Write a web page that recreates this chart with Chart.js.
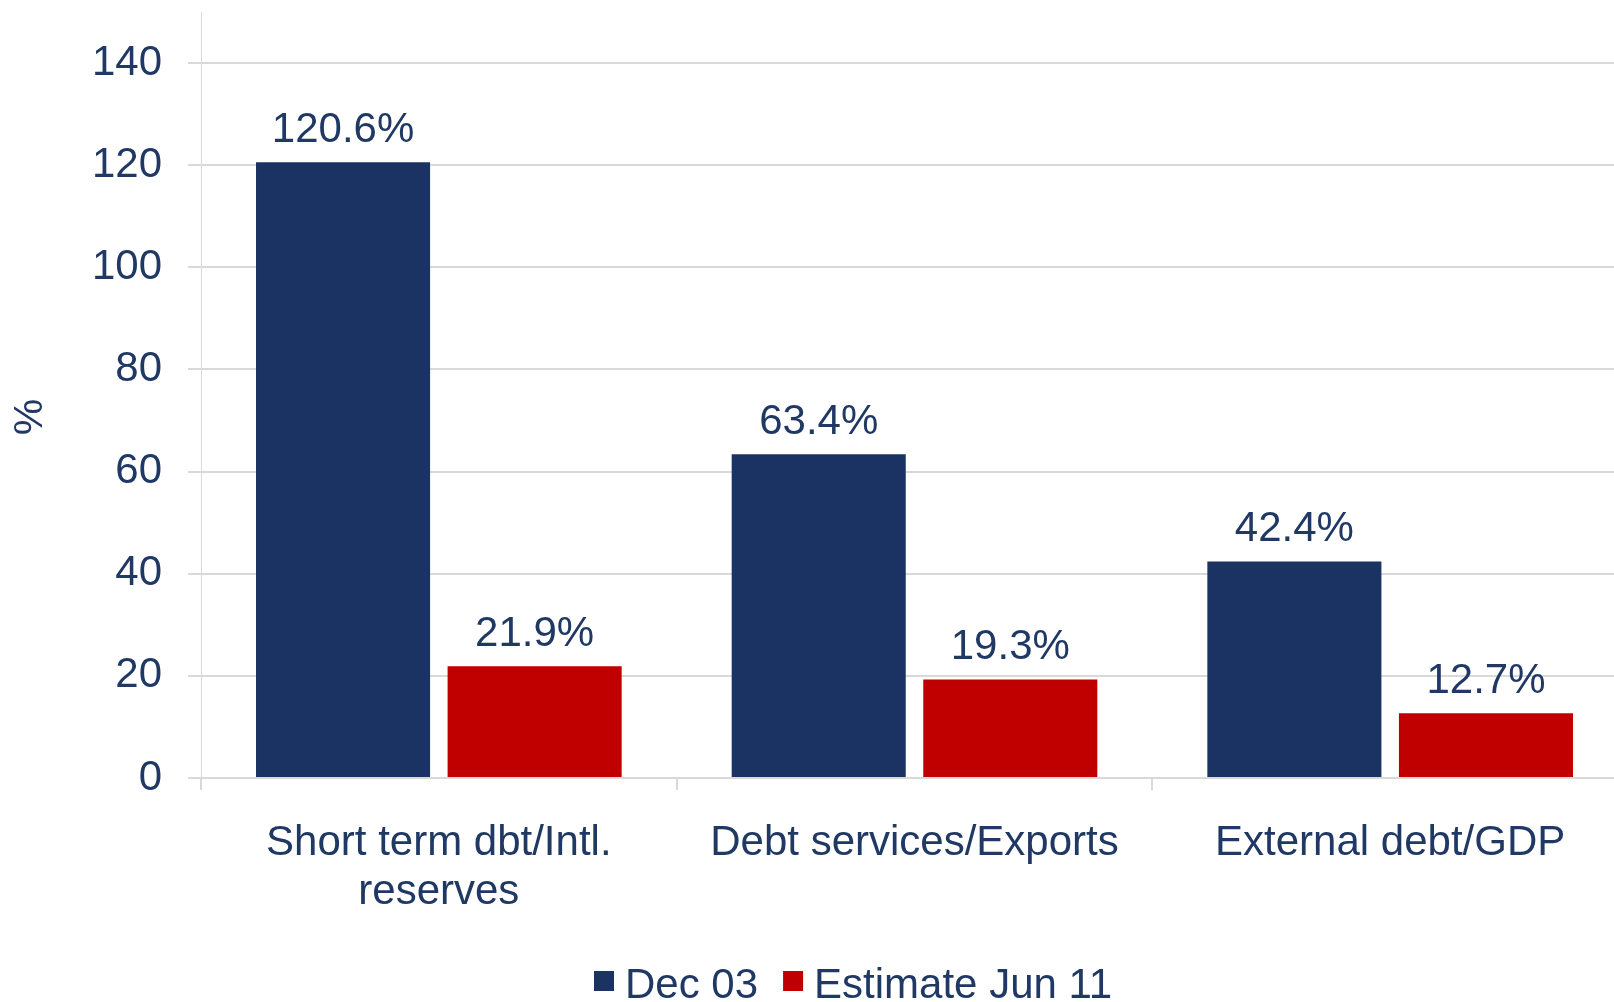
<!DOCTYPE html>
<html>
<head>
<meta charset="utf-8">
<script src="https://cdn.jsdelivr.net/npm/chart.js@4"></script>
<style>
  body { margin: 0; background: #fff; overflow: hidden; }
  #wrap { position: relative; width: 1630px; height: 1002px; }
</style>
</head>
<body>
<div id="wrap"><canvas id="Chart1"></canvas></div>
<script>
// data
const categories = [['Short term dbt/Intl.', 'reserves'], 'Debt services/Exports', 'External debt/GDP'];
const seriesNames = ['Dec 03', 'Estimate Jun 11'];
const dec03 = [120.6, 63.4, 42.4];
const jun11 = [21.9, 19.3, 12.7];
const yTicks = [0, 20, 40, 60, 80, 100, 120, 140];
const yTitle = '%';

const navy = '#1B3362';
const red = '#C00000';
const textColor = '#1F3864';
const gridColor = '#D9D9D9';
const fontFamily = '"Liberation Sans", Arial, sans-serif';

// value labels above the bars
const valueLabels = {
  id: 'valueLabels',
  afterDatasetsDraw(chart) {
    const ctx = chart.ctx;
    ctx.save();
    ctx.font = '42px ' + fontFamily;
    ctx.fillStyle = textColor;
    ctx.textAlign = 'center';
    ctx.textBaseline = 'alphabetic';
    chart.data.datasets.forEach((ds, i) => {
      chart.getDatasetMeta(i).data.forEach((bar, j) => {
        ctx.fillText(ds.data[j].toFixed(1) + '%', bar.x, bar.y - 20);
      });
    });
    ctx.restore();
  }
};

// y title and legend, drawn by hand so they sit where the original has them
const extras = {
  id: 'extras',
  afterDraw(chart) {
    const ctx = chart.ctx;
    ctx.save();
    ctx.font = '41px ' + fontFamily;
    ctx.fillStyle = textColor;
    ctx.translate(31, 417);
    ctx.rotate(-Math.PI / 2);
    ctx.textAlign = 'center';
    ctx.textBaseline = 'middle';
    ctx.fillText(yTitle, 0, 0);
    ctx.restore();

    ctx.save();
    ctx.font = '42px ' + fontFamily;
    ctx.textBaseline = 'alphabetic';
    ctx.textAlign = 'left';
    let x = 594;
    chart.data.datasets.forEach(ds => {
      ctx.fillStyle = ds.backgroundColor;
      ctx.fillRect(x, 971, 20, 20);
      ctx.fillStyle = textColor;
      ctx.fillText(ds.label, x + 31, 998);
      x += 31 + ctx.measureText(ds.label).width + 25;
    });
    ctx.restore();
  }
};

const ctx = document.getElementById('Chart1').getContext('2d');
new Chart(ctx, {
  type: 'bar',
  data: {
    labels: categories,
    datasets: [
      { label: seriesNames[0], data: dec03, backgroundColor: navy },
      { label: seriesNames[1], data: jun11, backgroundColor: red }
    ]
  },
  options: {
    responsive: true,
    maintainAspectRatio: false,
    animation: false,
    categoryPercentage: 0.8055,
    barPercentage: 0.9086,
    layout: { padding: { top: 12, right: 2, left: 0, bottom: 0 } },
    plugins: {
      legend: { display: false },
      tooltip: { enabled: false }
    },
    scales: {
      x: {
        grid: { offset: true, drawOnChartArea: false, tickLength: 12, color: gridColor, lineWidth: 2 },
        border: { color: gridColor, width: 2 },
        ticks: { color: textColor, font: { family: fontFamily, size: 42, lineHeight: 1.17 }, padding: 29, maxRotation: 0 },
        afterFit(scale) { scale.height = 224; }
      },
      y: {
        min: 0,
        max: 150,
        afterBuildTicks(scale) { scale.ticks = yTicks.map(v => ({ value: v })); },
        grid: { color: gridColor, lineWidth: 2, tickLength: 13 },
        border: { color: gridColor, width: 1 },
        ticks: { color: textColor, font: { family: fontFamily, size: 42 }, padding: 26 },
        afterFit(scale) {
          scale.width = 201;
          scale.paddingTop = 0;
          scale.paddingBottom = 0;
        }
      }
    }
  },
  plugins: [valueLabels, extras]
});
</script>
</body>
</html>
